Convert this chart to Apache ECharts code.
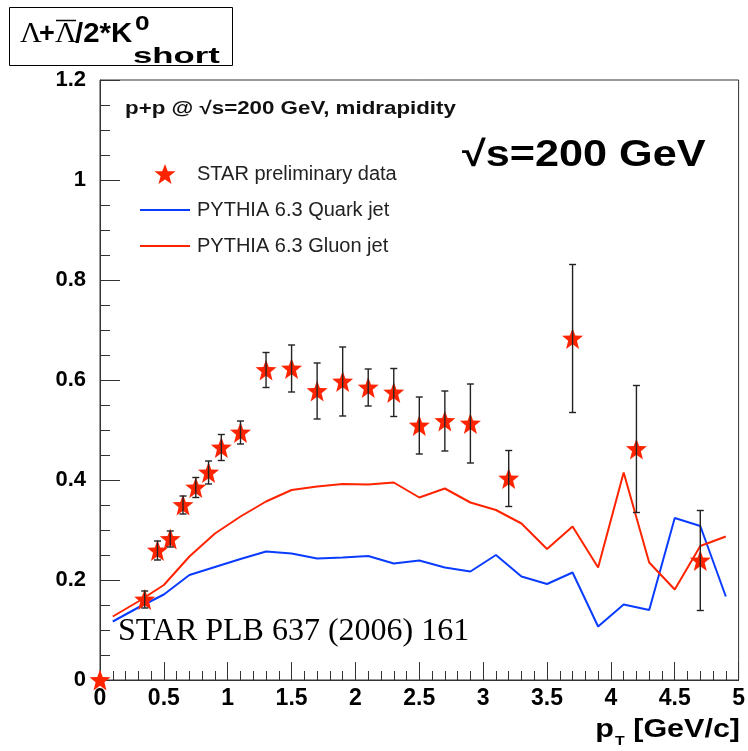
<!DOCTYPE html>
<html>
<head>
<meta charset="utf-8">
<script src="https://cdn.jsdelivr.net/npm/echarts@6/dist/echarts.min.js"></script>
<style>
  html, body { margin: 0; padding: 0; background: #fff; }
  #chart { width: 748px; height: 751px; }
</style>
</head>
<body>
<div id="chart"></div>
<script>
// Measured (Λ + anti-Λ) / 2K0s ratio vs pT with statistical errors
const ptData = [0, 0.35, 0.45, 0.55, 0.65, 0.75, 0.85, 0.95, 1.1, 1.3, 1.5, 1.7, 1.9, 2.1, 2.3, 2.5, 2.7, 2.9, 3.2, 3.7, 4.2, 4.7];
const ratioData = [0, 0.161, 0.259, 0.282, 0.35, 0.385, 0.415, 0.465, 0.495, 0.62, 0.623, 0.578, 0.597, 0.585, 0.575, 0.509, 0.518, 0.513, 0.403, 0.683, 0.462, 0.239];
const ratioErr = [0, 0.017, 0.019, 0.016, 0.018, 0.02, 0.023, 0.026, 0.023, 0.035, 0.047, 0.056, 0.069, 0.037, 0.048, 0.057, 0.06, 0.079, 0.056, 0.148, 0.127, 0.1];

// PYTHIA 6.3 predictions, evaluated on 0.2 GeV/c bins
const ptModel = [0.1, 0.3, 0.5, 0.7, 0.9, 1.1, 1.3, 1.5, 1.7, 1.9, 2.1, 2.3, 2.5, 2.7, 2.9, 3.1, 3.3, 3.5, 3.7, 3.9, 4.1, 4.3, 4.5, 4.7, 4.9];
const quarkJet = [0.117, 0.145, 0.171, 0.21, 0.226, 0.242, 0.257, 0.253, 0.243, 0.245, 0.248, 0.233, 0.239, 0.225, 0.217, 0.25, 0.207, 0.192, 0.215, 0.107, 0.151, 0.14, 0.324, 0.308, 0.167];
const gluonJet = [0.127, 0.157, 0.19, 0.247, 0.293, 0.327, 0.357, 0.38, 0.387, 0.392, 0.391, 0.395, 0.365, 0.383, 0.355, 0.34, 0.313, 0.262, 0.307, 0.225, 0.415, 0.235, 0.181, 0.268, 0.287];

const xTicks = [0, 0.5, 1, 1.5, 2, 2.5, 3, 3.5, 4, 4.5, 5];
const yTicks = [0, 0.2, 0.4, 0.6, 0.8, 1, 1.2];

const SANS = 'Liberation Sans';
const SERIF = 'Liberation Serif';
const RED = '#ff2400';
const BLUE = '#0a3cff';
const STAR = 'path://M50,0 L63,34 L100,35 L71,58 L81,95 L50,74 L19,95 L29,58 L0,35 L37,34 Z';
const LINE_ICON = 'path://M0,0 L100,0 L100,4 L0,4 Z';

const points = ptData.map((x, i) => [x, ratioData[i]]);
const errPoints = ptData.map((x, i) => [x, ratioData[i], ratioErr[i]]);
const quarkPts = ptModel.map((x, i) => [x, quarkJet[i]]);
const gluonPts = ptModel.map((x, i) => [x, gluonJet[i]]);

const chart = echarts.init(document.getElementById('chart'), null, { renderer: 'canvas' });

const option = {
  animation: false,
  backgroundColor: '#fff',
  grid: { left: 100, top: 80, right: 9, bottom: 71, show: true, borderColor: '#333', borderWidth: 1, backgroundColor: 'transparent' },
  xAxis: {
    type: 'value', min: xTicks[0], max: xTicks[xTicks.length - 1], interval: 0.5,
    axisLine: { show: true, lineStyle: { color: '#333', width: 1 } },
    axisTick: { show: true, inside: true, length: 18, lineStyle: { color: '#333' } },
    minorTick: { show: true, splitNumber: 5, length: 9, lineStyle: { color: '#333' } },
    splitLine: { show: false },
    axisLabel: {
      margin: 7, color: '#000', fontFamily: SANS, fontWeight: 'bold', fontSize: 23,
      formatter: v => xTicks.includes(v) ? String(v) : ''
    }
  },
  yAxis: {
    type: 'value', min: yTicks[0], max: yTicks[yTicks.length - 1], interval: 0.2,
    axisLine: { show: true, lineStyle: { color: '#333', width: 1 } },
    axisTick: { show: true, inside: true, length: 20, lineStyle: { color: '#333' } },
    minorTick: { show: true, splitNumber: 4, length: 10, lineStyle: { color: '#333' } },
    splitLine: { show: false },
    axisLabel: {
      margin: 14, color: '#000', fontFamily: SANS, fontWeight: 'bold', fontSize: 22,
      formatter: v => {
        const t = yTicks.find(k => Math.abs(k - v) < 1e-9);
        return t === undefined ? '' : String(t);
      }
    }
  },
  legend: {
    left: 135, top: 159, orient: 'vertical',
    itemWidth: 50, itemHeight: 20, itemGap: 16,
    textStyle: { fontFamily: SANS, fontSize: 20, color: '#222', padding: [0, 0, 0, 2] },
    data: [
      { name: 'STAR preliminary data' },
      { name: 'PYTHIA 6.3 Quark jet', icon: LINE_ICON },
      { name: 'PYTHIA 6.3 Gluon jet', icon: LINE_ICON }
    ]
  },
  series: [
    {
      name: 'PYTHIA 6.3 Quark jet', type: 'line', data: quarkPts, symbol: 'none',
      lineStyle: { color: BLUE, width: 2 }, itemStyle: { color: BLUE }, z: 2
    },
    {
      name: 'PYTHIA 6.3 Gluon jet', type: 'line', data: gluonPts, symbol: 'none',
      lineStyle: { color: RED, width: 2 }, itemStyle: { color: RED }, z: 2
    },
    {
      name: 'STAR preliminary data', type: 'scatter', data: points,
      symbol: STAR, symbolSize: 21, clip: false,
      itemStyle: { color: RED, opacity: 1 }, z: 3
    },
    {
      name: 'errors', type: 'custom', data: errPoints, z: 4, clip: false,
      renderItem: (params, api) => {
        const x = api.value(0), y = api.value(1), e = api.value(2);
        if (!e) return null;
        const hi = api.coord([x, y + e]);
        const lo = api.coord([x, y - e]);
        const w = 3.5;
        const st = { stroke: '#222', lineWidth: 1.4 };
        return {
          type: 'group',
          children: [
            { type: 'line', shape: { x1: hi[0], y1: hi[1], x2: lo[0], y2: lo[1] }, style: st },
            { type: 'line', shape: { x1: hi[0] - w, y1: hi[1], x2: hi[0] + w, y2: hi[1] }, style: st },
            { type: 'line', shape: { x1: lo[0] - w, y1: lo[1], x2: lo[0] + w, y2: lo[1] }, style: st }
          ]
        };
      }
    }
  ],
  graphic: [
    // y-axis title box
    { type: 'rect', shape: { x: 9.5, y: 7.5, width: 223, height: 58 }, style: { fill: '#fff', stroke: '#000', lineWidth: 1 } },
    { type: 'text', x: 20, y: 49, style: { text: 'Λ', font: `30px "${SERIF}"`, fill: '#000', textVerticalAlign: 'bottom' } },
    { type: 'text', x: 39, y: 48, style: { text: '+', font: `bold 27px "${SANS}"`, fill: '#000', textVerticalAlign: 'bottom' } },
    { type: 'text', x: 55, y: 49, style: { text: 'Λ', font: `30px "${SERIF}"`, fill: '#000', textVerticalAlign: 'bottom' } },
    { type: 'line', shape: { x1: 56, y1: 20.5, x2: 76, y2: 20.5 }, style: { stroke: '#000', lineWidth: 1.5 } },
    { type: 'text', x: 75, y: 48, scaleX: 1.05, style: { text: '/2*K', font: `bold 28px "${SANS}"`, fill: '#000', textVerticalAlign: 'bottom' } },
    { type: 'text', x: 135, y: 35, scaleX: 1.25, style: { text: '0', font: `bold 21px "${SANS}"`, fill: '#000', textVerticalAlign: 'bottom' } },
    { type: 'text', x: 133, y: 68, scaleX: 1.58, style: { text: 'short', font: `bold 22px "${SANS}"`, fill: '#000', textVerticalAlign: 'bottom' } },
    // annotations inside the frame
    { type: 'text', x: 125, y: 100, scaleX: 1.24, style: { text: 'p+p @ √s=200 GeV, midrapidity', font: `bold 18px "${SANS}"`, fill: '#111' } },
    { type: 'text', x: 462, y: 138, scaleX: 1.2, style: { text: '√s=200 GeV', font: `bold 36px "${SANS}"`, fill: '#000' } },
    { type: 'text', x: 118, y: 616, style: { text: 'STAR PLB 637 (2006) 161', font: `32px "${SERIF}"`, fill: '#000' } },
    // x-axis title
    {
      type: 'text', x: 740, y: 743, scaleX: 1.22,
      style: {
        text: '{p|p}{t|T}{p| [GeV/c]}',
        align: 'right', verticalAlign: 'bottom',
        rich: {
          p: { fontFamily: SANS, fontWeight: 'bold', fontSize: 25, fill: '#000', verticalAlign: 'bottom' },
          t: { fontFamily: SANS, fontWeight: 'bold', fontSize: 13, fill: '#000', verticalAlign: 'bottom', padding: [0, 0, -5, 1] }
        }
      }
    }
  ]
};

chart.setOption(option);
</script>
</body>
</html>
